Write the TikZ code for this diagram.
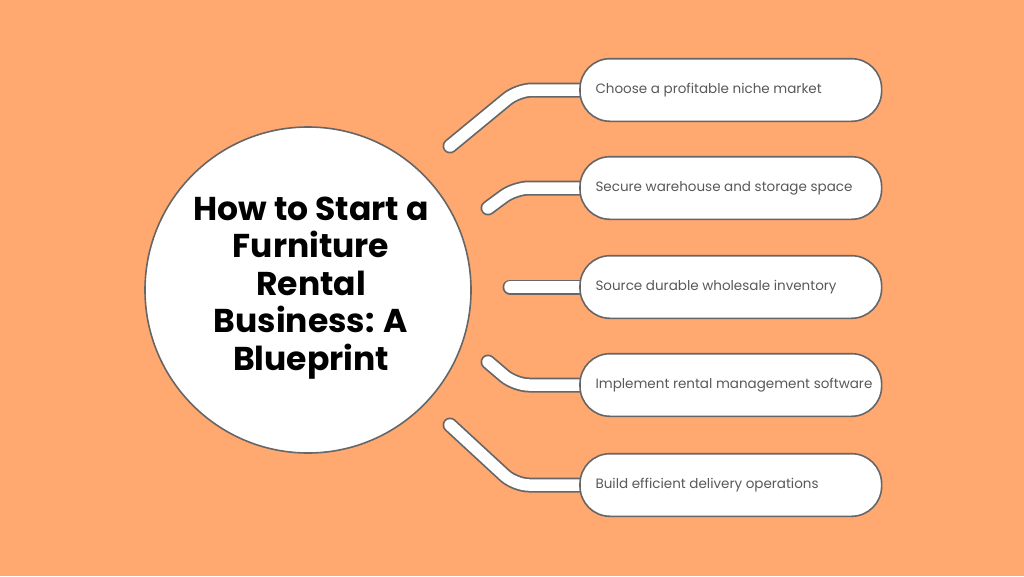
\documentclass[tikz,border=0pt]{standalone}
\usepackage{fontspec}
\setmainfont{Poppins}
\begin{document}
\begin{tikzpicture}[x=1pt,y=-1pt,
  band/.style={line width=15pt,line cap=round,line join=round,draw=black!60,rounded corners=14pt},
  bandin/.style={line width=11.5pt,line cap=round,line join=round,draw=white,rounded corners=14pt},
  pill/.style={draw=black!60,line width=1.6pt,fill=white,rounded corners=30pt,minimum width=300pt,minimum height=61pt,inner sep=0pt},
  lbl/.style={text=black!65,font=\fontsize{13.5pt}{15pt}\selectfont,anchor=west}]
\fill[fill={rgb,255:red,255;green,168;blue,112}] (0,0) rectangle (1024,576);
\useasboundingbox (0,0) rectangle (1024,576);
\coordinate (s1) at (450,146); \coordinate (m1) at (518,90);
\coordinate (s2) at (488,208); \coordinate (m2) at (515,188);
\coordinate (s3) at (510,287);
\coordinate (s4) at (488,362); \coordinate (m4) at (515,385);
\coordinate (s5) at (450,425); \coordinate (m5) at (515,485);
\node[pill,anchor=west] (b1) at (580,90) {};
\node[pill,anchor=west] (b2) at (580,188) {};
\node[pill,anchor=west] (b3) at (580,287) {};
\node[pill,anchor=west] (b4) at (580,385) {};
\node[pill,anchor=west] (b5) at (580,485) {};
\foreach \s/\m/\b in {s1/m1/b1,s2/m2/b2,s4/m4/b4,s5/m5/b5}{
  \draw[band] (\s) -- (\m) -- ([xshift=10pt]\b.west);
  \draw[bandin] (\s) -- (\m) -- ([xshift=10pt]\b.west);}
\draw[band] (s3) -- ([xshift=10pt]b3.west);
\draw[bandin] (s3) -- ([xshift=10pt]b3.west);
\foreach \b in {b1,b2,b3,b4,b5}{
  \draw[draw=black!60,line width=1.6pt,fill=white,rounded corners=30pt] (\b.south west) rectangle (\b.north east);}
\node[lbl] (t1) at (592,90) {Choose a profitable niche market};
\node[lbl] (t2) at (592,188) {Secure warehouse and storage space};
\node[lbl] (t3) at (592,287) {Source durable wholesale inventory};
\node[lbl] (t4) at (592,385) {Implement rental management software};
\node[lbl] (t5) at (592,485) {Build efficient delivery operations};
\node[circle,draw=black!60,line width=1.6pt,fill=white,minimum size=326pt] (c) at (308,290) {};
\node[align=center,font=\fontsize{33pt}{37.5pt}\selectfont\bfseries] (title) at (311,288)
 {How to Start a\\Furniture\\Rental\\Business: A\\Blueprint};
\end{tikzpicture}
\end{document}
